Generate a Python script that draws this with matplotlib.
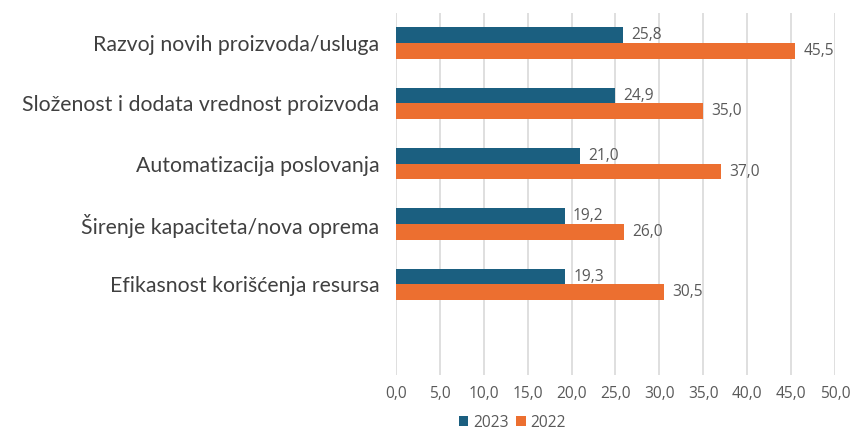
import matplotlib
matplotlib.use("Agg")
import matplotlib.pyplot as plt
import numpy as np

categories = [
    "Razvoj novih proizvoda/usluga",
    "Složenost i dodata vrednost proizvoda",
    "Automatizacija poslovanja",
    "Širenje kapaciteta/nova oprema",
    "Efikasnost korišćenja resursa",
]
values_2023 = [25.8, 24.9, 21.0, 19.2, 19.3]
values_2022 = [45.5, 35.0, 37.0, 26.0, 30.5]
x_ticks = [0, 5, 10, 15, 20, 25, 30, 35, 40, 45, 50]

color_2023 = "#1b5f80"
color_2022 = "#ec6f30"
text_color = "#404040"
num_font = ["Open Sans", "DejaVu Sans"]

plt.rcParams["font.family"] = ["Lato", "DejaVu Sans"]

fig = plt.figure(figsize=(8.54, 4.3), dpi=100)
ax = fig.add_axes([0.4637, 0.128, 0.514, 0.842])

y = np.arange(len(categories))
h = 0.26
b1 = ax.barh(y - h / 2, values_2023, height=h, color=color_2023, label="2023", zorder=3)
b2 = ax.barh(y + h / 2, values_2022, height=h, color=color_2022, label="2022", zorder=3)

fmt = lambda v: f"{v:.1f}".replace(".", ",")
for bars, vals in [(b1, values_2023), (b2, values_2022)]:
    ax.bar_label(bars, labels=[fmt(v) for v in vals], padding=6,
                 fontsize=11.2, color="#595959", family=num_font)

ax.set_xlim(0, 50)
ax.set_ylim(len(categories) + 0.5, -0.5)
ax.set_xticks(x_ticks)
ax.set_xticklabels([fmt(t) for t in x_ticks], fontsize=11.2, color="#595959",
                   family=num_font)
ax.set_yticks(y)
ax.set_yticklabels(categories, fontsize=15.3, color=text_color)
ax.tick_params(axis="both", length=0)
ax.tick_params(axis="x", pad=8)
ax.tick_params(axis="y", pad=12)
ax.grid(axis="x", color="#d9d9d9", linewidth=1.2, zorder=0)
for s in ax.spines.values():
    s.set_visible(False)

fig.legend(handles=[b1, b2], loc="center", bbox_to_anchor=(0.6, 0.017),
           ncol=2, frameon=False, handlelength=0.6,
           handleheight=0.6, handletextpad=0.3, columnspacing=0.5,
           labelcolor="#595959", prop={"family": num_font, "size": 11.2})

fig.savefig("out.png", dpi=100)
